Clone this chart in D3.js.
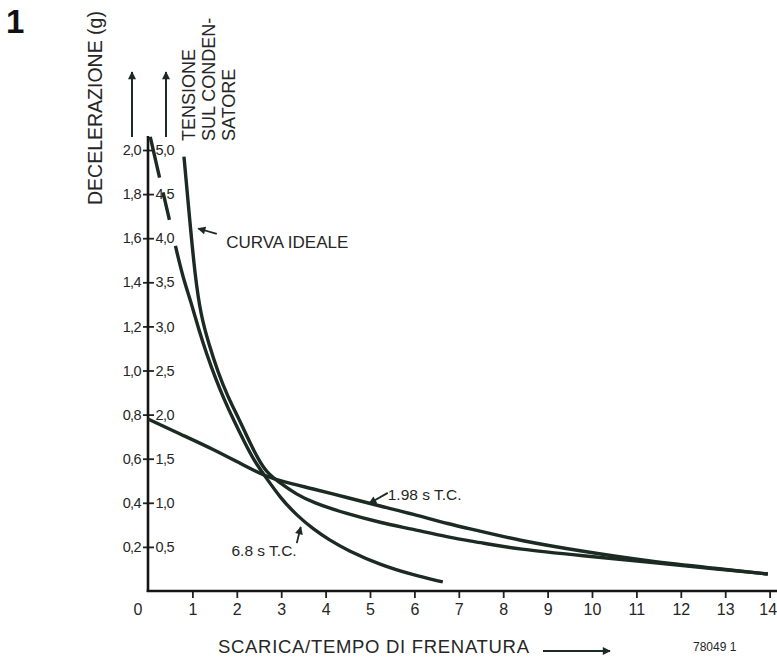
<!DOCTYPE html>
<html>
<head>
<meta charset="utf-8">
<script src="https://cdn.jsdelivr.net/npm/d3@7/dist/d3.min.js"></script>
<style>
  body { margin: 0; background: #fff; }
  svg text { font-family: "Liberation Sans", Arial, Helvetica, sans-serif; fill: #262626; }
</style>
</head>
<body>
<div id="wrapper"></div>
<script>
// values (x = scarica/tempo, y = decelerazione in g)
const xTicks = [1, 2, 3, 4, 5, 6, 7, 8, 9, 10, 11, 12, 13, 14];
const yTicks = [0.2, 0.4, 0.6, 0.8, 1.0, 1.2, 1.4, 1.6, 1.8, 2.0];
const yLabelsLeft = ["0,2", "0,4", "0,6", "0,8", "1,0", "1,2", "1,4", "1,6", "1,8", "2,0"];
const yLabelsRight = ["0,5", "1,0", "1,5", "2,0", "2,5", "3,0", "3,5", "4,0", "4,5", "5,0"];

// shallow curve, "1.98 s T.C."
const curveShallow = [
  [0, 0.78], [0.72, 0.712], [1.46, 0.644], [2.23, 0.562], [2.64, 0.522],
  [2.97, 0.499], [3.72, 0.463], [4.48, 0.424], [5.23, 0.385], [5.97, 0.349],
  [6.76, 0.304], [7.48, 0.272], [8.31, 0.231], [9.8, 0.179], [11.31, 0.134],
  [12.82, 0.102], [13.96, 0.077]
];

// steep curve with dashed start, ends early, "6.8 s T.C."
const curveSteep = [
  [0.05, 2.06], [0.23, 1.9], [0.43, 1.73], [0.61, 1.57], [0.79, 1.42],
  [0.97, 1.31], [1.15, 1.18], [1.33, 1.07], [1.51, 0.97], [1.71, 0.87],
  [1.94, 0.77], [2.16, 0.68], [2.39, 0.59], [2.64, 0.52], [2.97, 0.425],
  [3.35, 0.343], [3.72, 0.281], [4.1, 0.229], [4.48, 0.186], [5.23, 0.118],
  [5.97, 0.073], [6.64, 0.041]
];

// "curva ideale"
const curveIdeal = [
  [0.81, 1.97], [0.95, 1.66], [1.06, 1.43], [1.19, 1.25], [1.37, 1.12],
  [1.58, 0.99], [1.8, 0.88], [2.05, 0.78], [2.3, 0.67], [2.48, 0.6],
  [2.66, 0.54], [2.97, 0.49], [3.33, 0.44], [3.72, 0.4], [4.48, 0.35],
  [5.23, 0.31], [5.97, 0.28], [6.73, 0.245], [7.48, 0.22], [8.31, 0.19],
  [9.8, 0.16], [11.31, 0.13], [12.82, 0.1], [13.96, 0.077]
];

function drawChart() {
  // 1. dimensions
  let dimensions = {
    width: 777,
    height: 658,
    margin: { top: 150, right: 7, bottom: 67, left: 148 },
  };
  dimensions.boundedWidth =
    dimensions.width - dimensions.margin.left - dimensions.margin.right;
  dimensions.boundedHeight =
    dimensions.height - dimensions.margin.top - dimensions.margin.bottom;

  const ink = "#1c2a24";

  // 2. canvas
  const wrapper = d3
    .select("#wrapper")
    .append("svg")
    .attr("width", dimensions.width)
    .attr("height", dimensions.height);

  const defs = wrapper.append("defs");
  defs
    .append("marker")
    .attr("id", "head")
    .attr("viewBox", "0 0 10 10")
    .attr("refX", 9)
    .attr("refY", 5)
    .attr("markerUnits", "userSpaceOnUse")
    .attr("markerWidth", 9)
    .attr("markerHeight", 8)
    .attr("orient", "auto")
    .append("path")
    .attr("d", "M0,0 L10,5 L0,10 Z")
    .attr("fill", ink);
  defs
    .append("marker")
    .attr("id", "bighead")
    .attr("viewBox", "0 0 10 10")
    .attr("refX", 9)
    .attr("refY", 5)
    .attr("markerUnits", "userSpaceOnUse")
    .attr("markerWidth", 15)
    .attr("markerHeight", 8)
    .attr("orient", "auto")
    .append("path")
    .attr("d", "M0,0 L10,5 L0,10 Z")
    .attr("fill", ink);

  const bounds = wrapper
    .append("g")
    .attr(
      "transform",
      `translate(${dimensions.margin.left},${dimensions.margin.top})`
    );

  // 3. scales
  const xScale = d3
    .scaleLinear()
    .domain([0, 14])
    .range([0, 621.6]);

  const yScale = d3
    .scaleLinear()
    .domain([0, 2])
    .range([dimensions.boundedHeight, 0]);

  // 4. axes
  const yAxisLeft = bounds
    .append("g")
    .call(
      d3
        .axisLeft(yScale)
        .tickValues(yTicks)
        .tickFormat((d, i) => yLabelsLeft[i])
        .tickSize(5)
        .tickPadding(2)
    );
  const yAxisRight = bounds
    .append("g")
    .call(
      d3
        .axisRight(yScale)
        .tickValues(yTicks)
        .tickFormat((d, i) => yLabelsRight[i])
        .tickSize(6)
        .tickPadding(1.5)
    );
  [yAxisLeft, yAxisRight].forEach((ax) => {
    ax.select(".domain").remove();
    ax.attr("color", "#222")
      .attr("font-size", 14.5)
      .attr("font-family", null);
    ax.selectAll(".tick line").attr("stroke-width", 1.8);
    ax.selectAll(".tick text").attr("letter-spacing", "-0.6px");
  });

  const xAxis = bounds
    .append("g")
    .attr("transform", `translate(0,${dimensions.boundedHeight})`)
    .call(d3.axisBottom(xScale).tickValues(xTicks).tickSize(7).tickPadding(5.5));
  xAxis.select(".domain").remove();
  xAxis.attr("color", "#222").attr("font-size", 16).attr("font-family", null);
  xAxis.selectAll(".tick line").attr("stroke-width", 1.8);
  // last label sits against the right edge, as in the print
  xAxis
    .selectAll(".tick text")
    .filter((d) => d === 14)
    .attr("text-anchor", "end")
    .attr("x", 7);

  // origin label
  bounds
    .append("text")
    .attr("x", xScale(0) - 10)
    .attr("y", dimensions.boundedHeight + 24)
    .attr("text-anchor", "middle")
    .style("font-size", "16px")
    .text("0");

  // axis lines
  bounds
    .append("line")
    .attr("x1", 0)
    .attr("x2", 0)
    .attr("y1", dimensions.boundedHeight + 1)
    .attr("y2", -14)
    .attr("stroke", "#151515")
    .attr("stroke-width", 2.6);
  bounds
    .append("line")
    .attr("x1", -1.3)
    .attr("x2", dimensions.boundedWidth + 8)
    .attr("y1", dimensions.boundedHeight)
    .attr("y2", dimensions.boundedHeight)
    .attr("stroke", "#151515")
    .attr("stroke-width", 2.6);

  // arrows above the two value columns
  [-16, 18].forEach((dx) => {
    bounds
      .append("line")
      .attr("x1", dx)
      .attr("x2", dx)
      .attr("y1", -13)
      .attr("y2", -78)
      .attr("stroke", ink)
      .attr("stroke-width", 2)
      .attr("marker-end", "url(#bighead)");
  });

  // 5. curves
  const lineGenerator = d3
    .line()
    .x((d) => xScale(d[0]))
    .y((d) => yScale(d[1]))
    .curve(d3.curveBasis);

  bounds
    .append("path")
    .attr("d", lineGenerator(curveShallow))
    .attr("fill", "none")
    .attr("stroke", ink)
    .attr("stroke-width", 3.4);

  bounds
    .append("path")
    .attr("d", lineGenerator(curveIdeal))
    .attr("fill", "none")
    .attr("stroke", ink)
    .attr("stroke-width", 3.4);

  bounds
    .append("path")
    .attr("d", lineGenerator(curveSteep))
    .attr("fill", "none")
    .attr("stroke", ink)
    .attr("stroke-width", 3.4)
    .attr("stroke-dasharray", "42 15 28 27 5000");

  // 6. labels and annotations
  const annot = (x1, y1, x2, y2) =>
    bounds
      .append("line")
      .attr("x1", xScale(x1))
      .attr("y1", yScale(y1))
      .attr("x2", xScale(x2))
      .attr("y2", yScale(y2))
      .attr("stroke", ink)
      .attr("stroke-width", 1.8)
      .attr("marker-end", "url(#head)");

  annot(1.55, 1.62, 1.13, 1.644);
  bounds
    .append("text")
    .attr("x", xScale(1.76))
    .attr("y", yScale(1.555))
    .style("font-size", "17px")
    .text("CURVA IDEALE");

  annot(5.4, 0.445, 4.98, 0.397);
  bounds
    .append("text")
    .attr("x", xScale(5.4))
    .attr("y", yScale(0.413))
    .style("font-size", "15.5px")
    .text("1.98 s T.C.");

  annot(3.35, 0.217, 3.44, 0.29);
  bounds
    .append("text")
    .attr("x", xScale(1.88))
    .attr("y", yScale(0.159))
    .style("font-size", "15.5px")
    .text("6.8 s T.C.");

  // axis titles
  wrapper
    .append("text")
    .attr("transform", "translate(102,205) rotate(-90)")
    .style("font-size", "19.5px")
    .text("DECELERAZIONE (g)");

  const tension = ["TENSIONE", "SUL CONDEN-", "SATORE"];
  tension.forEach((t, i) => {
    wrapper
      .append("text")
      .attr("transform", `translate(${194.5 + i * 20},141) rotate(-90)`)
      .style("font-size", "18px")
      .text(t);
  });

  wrapper
    .append("text")
    .attr("x", 218)
    .attr("y", 653)
    .attr("textLength", 311)
    .attr("lengthAdjust", "spacing")
    .style("font-size", "18.5px")
    .text("SCARICA/TEMPO DI FRENATURA");

  wrapper
    .append("line")
    .attr("x1", 543)
    .attr("x2", 610)
    .attr("y1", 651)
    .attr("y2", 651)
    .attr("stroke", ink)
    .attr("stroke-width", 2)
    .attr("marker-end", "url(#bighead)");

  wrapper
    .append("text")
    .attr("x", 693)
    .attr("y", 651)
    .style("font-size", "12px")
    .text("78049 1");

  // figure number
  wrapper
    .append("text")
    .attr("x", 6)
    .attr("y", 33)
    .style("font-size", "33px")
    .style("font-weight", "bold")
    .style("fill", "#111")
    .text("1");
}

drawChart();
</script>
</body>
</html>
